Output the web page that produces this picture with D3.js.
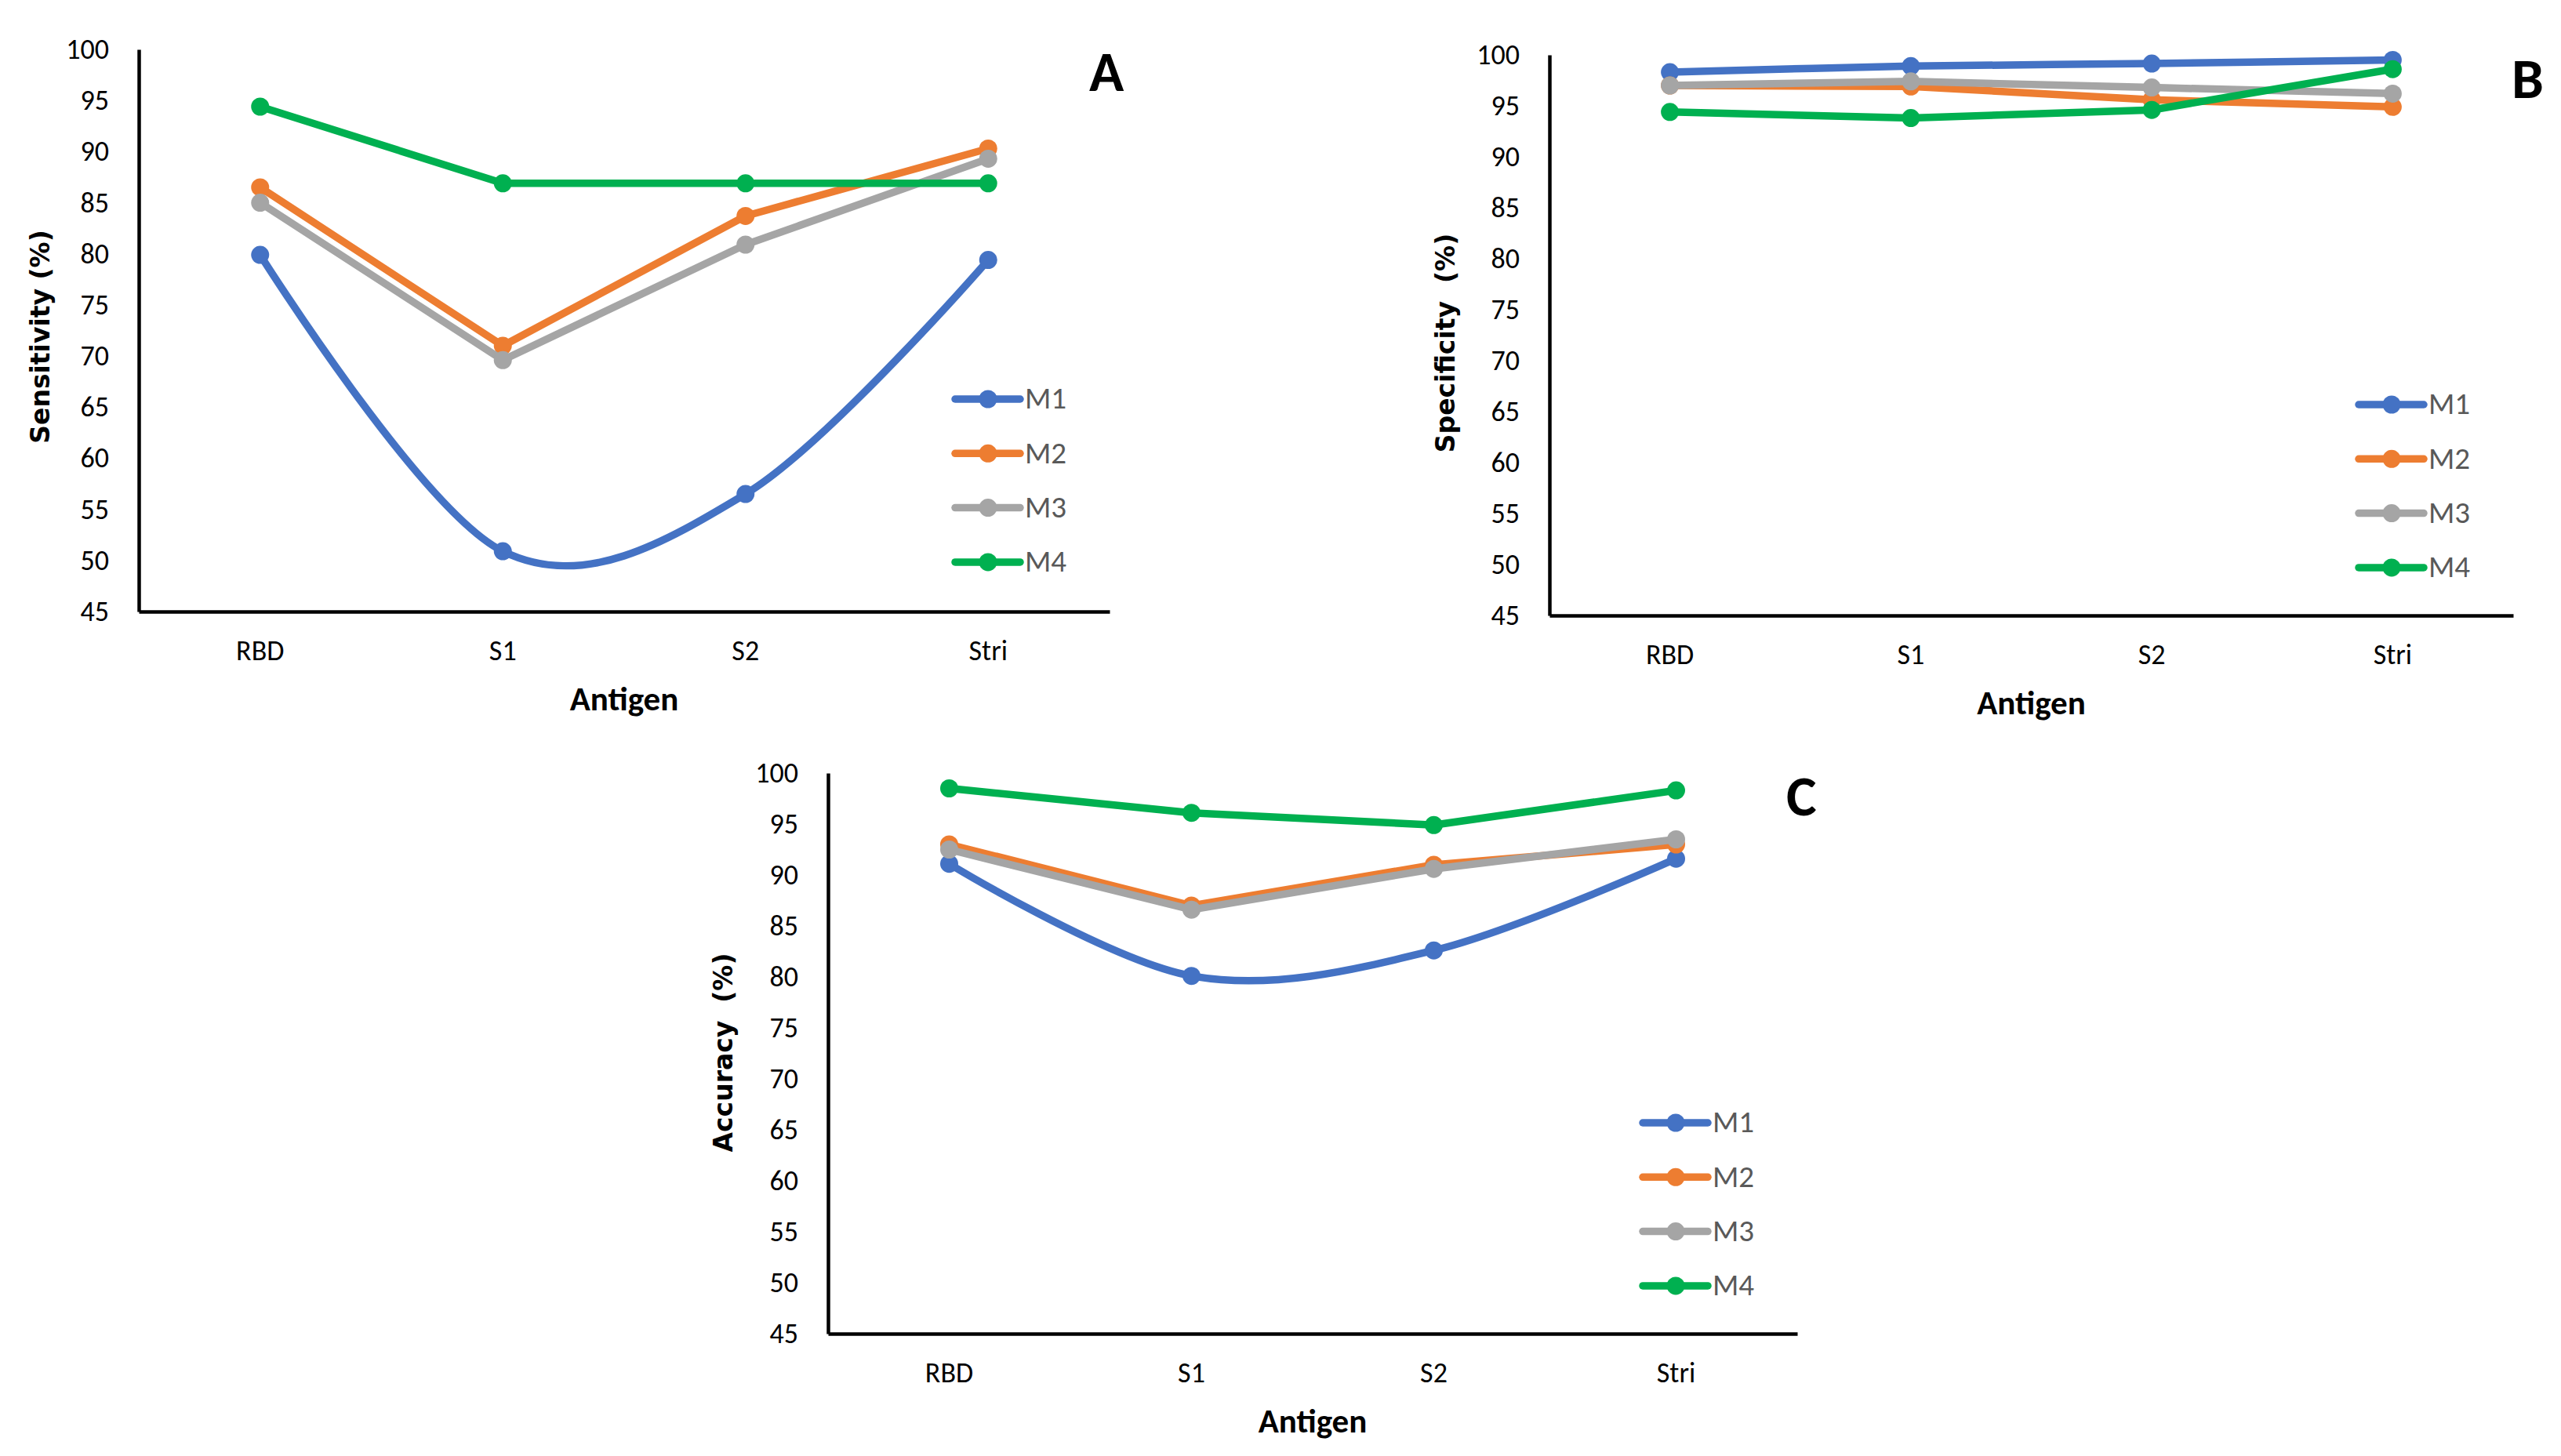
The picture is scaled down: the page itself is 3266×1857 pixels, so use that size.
<!DOCTYPE html>
<html>
<head>
<meta charset="utf-8">
<script src="https://cdn.jsdelivr.net/npm/d3@7"></script>
<style>
  body { margin: 0; background: #fff; }
  svg { display: block; }
</style>
</head>
<body>
<svg id="chart" width="3266" height="1857"></svg>
<script>
// data
var antigens = ["RBD", "S1", "S2", "Stri"];
var models = ["M1", "M2", "M3", "M4"];
var modelColors = ["#4472C4", "#ED7D31", "#A5A5A5", "#00B050"];
var yTicks = [45, 50, 55, 60, 65, 70, 75, 80, 85, 90, 95, 100];

// one row per model, one value per antigen
var sensitivity = [
    [79.9, 50.9, 56.5, 79.4],
    [86.5, 71.0, 83.7, 90.3],
    [85.0, 69.6, 80.9, 89.3],
    [94.4, 86.9, 86.9, 86.9]
];
var specificity = [
    [98.3, 98.9, 99.15, 99.5],
    [97.0, 96.9, 95.6, 94.9],
    [97.0, 97.4, 96.8, 96.2],
    [94.4, 93.8, 94.6, 98.6]
];
var accuracy = [
    [91.1, 80.1, 82.6, 91.6],
    [93.0, 87.0, 91.0, 93.0],
    [92.5, 86.6, 90.6, 93.5],
    [98.5, 96.1, 94.9, 98.3]
];

var FONT = "Carlito, Calibri, 'Open Sans', sans-serif";
var TITLE_FONT = "'DejaVu Sans', Verdana, sans-serif";

var panels = [
    {label: "A", title: "Sensitivity (%)", data: sensitivity,
     left: 177, right: 1415, top: 63, bottom: 780,
     titleX: 51, titleDy: 8, labelX: 1389, labelY: 116},
    {label: "B", title: "Specificity  (%)", data: specificity,
     left: 1976, right: 3205, top: 70, bottom: 785,
     titleX: 1843, titleDy: 10, labelX: 3203, labelY: 125},
    {label: "C", title: "Accuracy  (%)", data: accuracy,
     left: 1056, right: 2292, top: 986, bottom: 1701,
     titleX: 922, titleDy: -1, labelX: 2278, labelY: 1040}
];

var svg = d3.select("#chart");

var drawPanel = function (p) {
    var g = svg.append("g");

    var x = d3.scaleBand()
        .domain(antigens)
        .range([p.left, p.right]);
    var y = d3.scaleLinear()
        .domain([45, 100])
        .range([p.bottom, p.top]);

    // y axis
    var yAxis = g.append("g")
        .attr("transform", "translate(" + p.left + ",0)")
        .call(d3.axisLeft(y).tickValues(yTicks).tickSize(0).tickSizeOuter(0).tickPadding(38));
    yAxis.select(".domain").attr("stroke", "#000").attr("stroke-width", 4.5);
    yAxis.selectAll("text")
        .attr("dy", "0.32em")
        .style("font-family", FONT)
        .style("font-size", "36px")
        .attr("fill", "#000");

    // x axis
    var xAxis = g.append("g")
        .attr("transform", "translate(0," + p.bottom + ")")
        .call(d3.axisBottom(x).tickSize(0).tickSizeOuter(0));
    xAxis.select(".domain").attr("stroke", "#000").attr("stroke-width", 4.5);
    xAxis.selectAll("text")
        .attr("y", 62)
        .attr("dy", 0)
        .style("font-family", FONT)
        .style("font-size", "36px")
        .attr("fill", "#000");

    // axis titles
    g.append("text")
        .attr("x", (p.left + p.right) / 2)
        .attr("y", p.bottom + 126)
        .attr("text-anchor", "middle")
        .style("font-family", FONT)
        .style("font-size", "43px")
        .style("font-weight", "bold")
        .text("Antigen");

    g.append("text")
        .attr("transform", "translate(" + p.titleX + "," + ((p.top + p.bottom) / 2 + p.titleDy) + ") rotate(-90)")
        .attr("text-anchor", "middle")
        .attr("dy", "0.36em")
        .style("font-family", TITLE_FONT)
        .style("font-size", "33px")
        .style("font-weight", "bold")
        .style("white-space", "pre")
        .text(p.title);

    // panel letter
    g.append("text")
        .attr("x", p.labelX)
        .attr("y", p.labelY)
        .style("font-family", FONT)
        .style("font-size", "73px")
        .style("font-weight", "bold")
        .text(p.label);

    // series, M1 drawn smoothed like the original
    var cx = function (d, i) {return x(antigens[i]) + x.bandwidth() / 2;};
    p.data.forEach(function (vals, k) {
        var line = d3.line()
            .x(cx)
            .y(function (d) {return y(d);})
            .curve(k == 0 ? d3.curveCatmullRom.alpha(0) : d3.curveLinear);
        g.append("path")
            .datum(vals)
            .attr("d", line)
            .attr("fill", "none")
            .attr("stroke", modelColors[k])
            .attr("stroke-width", 9.5)
            .attr("stroke-linejoin", "round")
            .attr("stroke-linecap", "round");
        g.selectAll(null)
            .data(vals)
            .enter()
            .append("circle")
            .attr("cx", cx)
            .attr("cy", function (d) {return y(d);})
            .attr("r", 11.5)
            .attr("fill", modelColors[k]);
    });

    // legend
    var lx = p.right - 197, ly = p.top + 446;
    var leg = g.selectAll(".legend")
        .data(models)
        .enter()
        .append("g")
        .attr("class", "legend")
        .attr("transform", function (d, i) {return "translate(" + lx + "," + (ly + i * 69.3) + ")";});
    leg.append("line")
        .attr("x1", 0).attr("x2", 83)
        .attr("stroke", function (d, i) {return modelColors[i];})
        .attr("stroke-width", 9.5)
        .attr("stroke-linecap", "round");
    leg.append("circle")
        .attr("cx", 42)
        .attr("r", 11.5)
        .attr("fill", function (d, i) {return modelColors[i];});
    leg.append("text")
        .attr("x", 89)
        .attr("dy", "0.32em")
        .style("font-family", FONT)
        .style("font-size", "39px")
        .attr("fill", "#595959")
        .text(function (d) {return d;});
};

panels.forEach(drawPanel);
</script>
</body>
</html>
